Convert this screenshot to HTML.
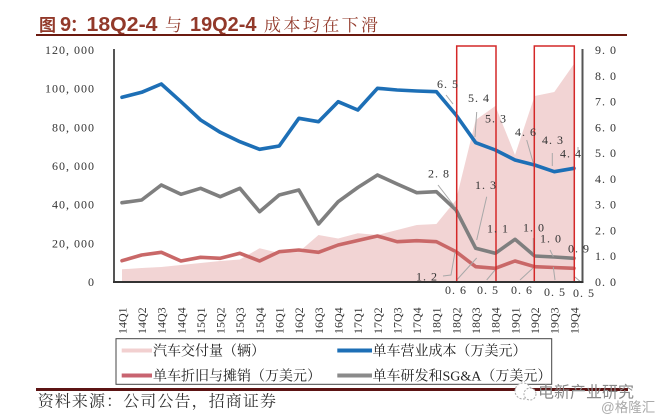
<!DOCTYPE html>
<html><head><meta charset="utf-8"><style>
html,body{margin:0;padding:0;background:#fff;}
svg{display:block;}
</style></head><body>
<svg width="662" height="419" viewBox="0 0 662 419" xmlns="http://www.w3.org/2000/svg">
<rect width="662" height="419" fill="#fff"/>
<!-- Title -->
<g fill="#92392a">
<text x="39" y="31" font-family="Noto Sans CJK SC, sans-serif" font-size="17" font-weight="bold">图</text>
<text x="60" y="31" font-family="Liberation Sans, sans-serif" font-size="20" font-weight="bold">9</text>
<text x="70" y="31" font-family="Noto Sans CJK SC, sans-serif" font-size="17" font-weight="bold">：</text>
<text x="86.5" y="31" font-family="Liberation Sans, sans-serif" font-size="20" font-weight="bold" textLength="71" lengthAdjust="spacingAndGlyphs">18Q2-4</text>
<text x="165" y="31" font-family="Noto Serif CJK SC, serif" font-size="17">与</text>
<text x="190" y="31" font-family="Liberation Sans, sans-serif" font-size="20" font-weight="bold" textLength="66.5" lengthAdjust="spacingAndGlyphs">19Q2-4</text>
<text x="264" y="31" font-family="Noto Serif CJK SC, serif" font-size="17" letter-spacing="2.4">成本均在下滑</text>
</g>
<line x1="36" y1="35" x2="627" y2="35" stroke="#6b1a10" stroke-width="2"/>

<!-- Pink area -->
<polygon fill="#f2d4d4" points="122,282 122,269.3 141.65,268 161.3,267 180.95,265 200.6,263 220.25,261 239.9,259.5 259.55,248.3 279.2,253 298.85,252 318.5,235 338.15,238.5 357.8,233.3 377.45,235 397.1,230 416.75,225 436.4,224 456.05,200 475.7,120 495.35,106 515,155 534.65,96 554.3,92 573.95,64 573.95,282"/>

<!-- Series -->
<g fill="none" stroke-width="3.6" stroke-linejoin="round" stroke-linecap="round">
<polyline stroke="#c96868" points="122,260.7 141.65,255 161.3,252.3 180.95,261 200.6,257.3 220.25,258.3 239.9,253.3 259.55,261 279.2,251.7 298.85,250 318.5,252.3 338.15,245 357.8,240.5 377.45,236 397.1,241.7 416.75,240.7 436.4,241.7 456.05,251.7 475.7,266.7 495.35,268.3 515,261 534.65,266.7 554.3,267.5 573.95,268.3"/>
<polyline stroke="#7f7f7f" points="122,202.7 141.65,200 161.3,185 180.95,194.3 200.6,188.3 220.25,196.7 239.9,188.3 259.55,211.7 279.2,195 298.85,190 318.5,224 338.15,201.7 357.8,187.5 377.45,175 397.1,184 416.75,192.7 436.4,191.7 456.05,210 475.7,248.3 495.35,253.3 515,239.3 534.65,256 554.3,257 573.95,258.3"/>
<polyline stroke="#1d6fb6" points="122,97.3 141.65,92.3 161.3,84 180.95,101.7 200.6,120 220.25,132.3 239.9,141.7 259.55,149.3 279.2,146 298.85,118.3 318.5,121.7 338.15,101.7 357.8,110 377.45,88.3 397.1,90 416.75,91 436.4,91.7 456.05,115 475.7,142.7 495.35,150 515,160 534.65,165 554.3,171.7 573.95,168.3"/>
</g>

<!-- leader lines -->
<g stroke="#a8a8a8" stroke-width="1" fill="none">
<line x1="446" y1="95" x2="453" y2="104"/>
<line x1="476.7" y1="112" x2="475" y2="137"/>
<line x1="526.7" y1="140" x2="533.3" y2="163"/>
<line x1="552.3" y1="153" x2="552.3" y2="166"/>
<line x1="578" y1="147" x2="578" y2="153"/>
<line x1="438" y1="185" x2="455" y2="207"/>
<line x1="486.7" y1="196.7" x2="476.7" y2="240"/>
<line x1="533.3" y1="238" x2="533.3" y2="253"/>
<line x1="550" y1="250" x2="553.3" y2="256.7"/>
<polyline points="443,276 451,275 455,252"/>
<line x1="456.7" y1="280" x2="476.7" y2="258"/>
<line x1="486.7" y1="280" x2="495" y2="270"/>
<line x1="520" y1="280" x2="533" y2="268"/>
<line x1="555" y1="280" x2="553.3" y2="267"/>
<line x1="575" y1="277" x2="582" y2="283"/>
</g>

<!-- red boxes -->
<g fill="none" stroke="#d42828" stroke-width="1.5">
<rect x="456.7" y="46" width="39.3" height="236"/>
<rect x="534.3" y="46" width="40" height="236"/>
</g>

<!-- axes -->
<line x1="114" y1="49" x2="114" y2="283" stroke="#555" stroke-width="2"/>
<line x1="582.5" y1="49" x2="582.5" y2="283" stroke="#555" stroke-width="2"/>
<line x1="113" y1="282" x2="583.5" y2="282" stroke="#333" stroke-width="2"/>

<!-- left axis labels -->
<g font-family="Liberation Serif, serif" font-size="12" fill="#333" text-anchor="end" letter-spacing="1">
<text x="95" y="54">120, 000</text>
<text x="95" y="92.7">100, 000</text>
<text x="95" y="131.3">80, 000</text>
<text x="95" y="170">60, 000</text>
<text x="95" y="208.7">40, 000</text>
<text x="95" y="247.3">20, 000</text>
<text x="95" y="286">0</text>
</g>
<!-- right axis labels -->
<g font-family="Liberation Serif, serif" font-size="12" fill="#333" letter-spacing="1">
<text x="595" y="54">9. 0</text>
<text x="595" y="79.8">8. 0</text>
<text x="595" y="105.6">7. 0</text>
<text x="595" y="131.3">6. 0</text>
<text x="595" y="157.1">5. 0</text>
<text x="595" y="182.9">4. 0</text>
<text x="595" y="208.7">3. 0</text>
<text x="595" y="234.4">2. 0</text>
<text x="595" y="260.2">1. 0</text>
<text x="595" y="286">0. 0</text>
</g>

<!-- data labels -->
<g font-family="Liberation Serif, serif" font-size="12" fill="#333" letter-spacing="1">
<text x="437" y="88">6. 5</text>
<text x="468" y="102">5. 4</text>
<text x="485" y="122.5">5. 3</text>
<text x="515" y="136">4. 6</text>
<text x="542" y="144">4. 3</text>
<text x="560" y="157.5">4. 4</text>
<text x="428" y="177.5">2. 8</text>
<text x="475" y="189">1. 3</text>
<text x="487" y="232.5">1. 1</text>
<text x="523" y="231.5">1. 0</text>
<text x="540" y="242.5">1. 0</text>
<text x="568" y="252.5">0. 9</text>
<text x="416" y="280.5">1. 2</text>
<text x="445" y="294">0. 6</text>
<text x="477" y="294">0. 5</text>
<text x="511" y="294">0. 6</text>
<text x="544" y="296">0. 5</text>
<text x="573" y="297">0. 5</text>
</g>

<!-- x tick labels -->
<g font-family="Liberation Serif, serif" font-size="12" fill="#333">
<text transform="translate(126.3,334) rotate(-90)">14Q1</text>
<text transform="translate(145.95,334) rotate(-90)">14Q2</text>
<text transform="translate(165.6,334) rotate(-90)">14Q3</text>
<text transform="translate(185.25,334) rotate(-90)">14Q4</text>
<text transform="translate(204.9,334) rotate(-90)">15Q1</text>
<text transform="translate(224.55,334) rotate(-90)">15Q2</text>
<text transform="translate(244.2,334) rotate(-90)">15Q3</text>
<text transform="translate(263.85,334) rotate(-90)">15Q4</text>
<text transform="translate(283.5,334) rotate(-90)">16Q1</text>
<text transform="translate(303.15,334) rotate(-90)">16Q2</text>
<text transform="translate(322.8,334) rotate(-90)">16Q3</text>
<text transform="translate(342.45,334) rotate(-90)">16Q4</text>
<text transform="translate(362.1,334) rotate(-90)">17Q1</text>
<text transform="translate(381.75,334) rotate(-90)">17Q2</text>
<text transform="translate(401.4,334) rotate(-90)">17Q3</text>
<text transform="translate(421.05,334) rotate(-90)">17Q4</text>
<text transform="translate(440.7,334) rotate(-90)">18Q1</text>
<text transform="translate(460.35,334) rotate(-90)">18Q2</text>
<text transform="translate(480,334) rotate(-90)">18Q3</text>
<text transform="translate(499.65,334) rotate(-90)">18Q4</text>
<text transform="translate(519.3,334) rotate(-90)">19Q1</text>
<text transform="translate(538.95,334) rotate(-90)">19Q2</text>
<text transform="translate(558.6,334) rotate(-90)">19Q3</text>
<text transform="translate(578.25,334) rotate(-90)">19Q4</text>
</g>

<!-- legend -->
<rect x="116" y="338.7" width="435.7" height="45.6" fill="#fff" stroke="#444" stroke-width="1"/>
<g stroke-width="4">
<line x1="121.7" y1="350.5" x2="152" y2="350.5" stroke="#f2d0d0"/>
<line x1="121.7" y1="375.5" x2="152" y2="375.5" stroke="#c86470"/>
<line x1="337.3" y1="350.5" x2="372" y2="350.5" stroke="#1d6fb6"/>
<line x1="337.3" y1="375.5" x2="372" y2="375.5" stroke="#8a8a8a"/>
</g>
<g font-family="Liberation Serif, Noto Serif CJK SC, serif" font-size="14" fill="#222">
<text x="153" y="355.5">汽车交付量（辆）</text>
<text x="153" y="380.5">单车折旧与摊销（万美元）</text>
<text x="372.5" y="355.5">单车营业成本（万美元）</text>
<text x="372.5" y="380.5">单车研发和SG&amp;A（万美元）</text>
</g>

<!-- bottom rule -->
<line x1="36" y1="389.5" x2="628" y2="389.5" stroke="#5c1414" stroke-width="3"/>

<!-- source -->
<text x="37.7" y="406.5" font-family="Liberation Serif, Noto Serif CJK SC, serif" font-size="16" letter-spacing="1.1" fill="#333">资料来源：公司公告，招商证券</text>

<!-- watermark -->
<circle cx="523" cy="391" r="8" fill="#fff" stroke="#aaa" stroke-width="1" stroke-dasharray="2 1.5"/>
<circle cx="530" cy="394" r="6" fill="#fff" stroke="#aaa" stroke-width="1" stroke-dasharray="2 1.5"/>
<text x="538" y="397.5" font-family="Noto Sans CJK SC, sans-serif" font-size="16" fill="#8a8a8a">电新产业研究</text>
<text x="601" y="412" font-family="Liberation Sans, Noto Sans CJK SC, sans-serif" font-size="13.5" fill="#aaa">@格隆汇</text>
</svg>
</body></html>
